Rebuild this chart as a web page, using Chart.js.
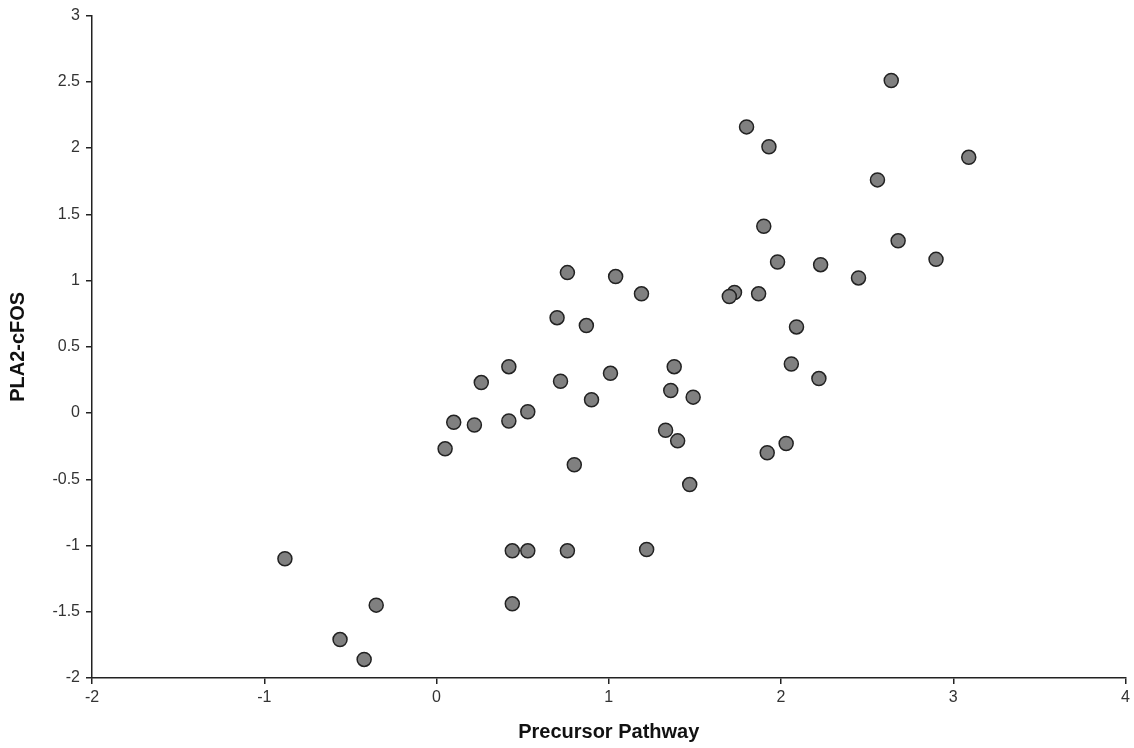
<!DOCTYPE html>
<html>
<head>
<meta charset="utf-8">
<script src="https://cdn.jsdelivr.net/npm/chart.js@4.4.0/dist/chart.umd.min.js"></script>
<style>
  html, body { margin: 0; padding: 0; background: #ffffff; }
  #wrap { width: 1134px; height: 748px; position: relative; }
</style>
</head>
<body>
<div id="wrap"><canvas id="scatterChart"></canvas></div>
<script>
// Datos (Precursor Pathway vs PLA2-cFOS)
const precursorX = [
  2.64, 1.80, 1.93, 3.09, 2.56, 1.90, 2.68, 2.90, 1.98, 2.23,
  1.04, 1.19, 2.45, 1.73, 1.70, 1.87, 0.76, 0.70, 0.87, 0.42,
  0.26, 0.72, 0.90, 0.53, 0.10, 0.22, 0.42, 0.05, 2.09, 1.01,
  1.38, 2.06, 2.22, 1.36, 1.49, 1.33, 1.40, 2.03, 1.92, 1.47,
  0.80, -0.88, -0.35, -0.56, -0.42, 0.44, 0.53, 0.76, 1.22, 0.44
];
const pla2Y = [
  2.51, 2.16, 2.01, 1.93, 1.76, 1.41, 1.30, 1.16, 1.14, 1.12,
  1.03, 0.90, 1.02, 0.91, 0.88, 0.90, 1.06, 0.72, 0.66, 0.35,
  0.23, 0.24, 0.10, 0.01, -0.07, -0.09, -0.06, -0.27, 0.65, 0.30,
  0.35, 0.37, 0.26, 0.17, 0.12, -0.13, -0.21, -0.23, -0.30, -0.54,
  -0.39, -1.10, -1.45, -1.71, -1.86, -1.04, -1.04, -1.04, -1.03, -1.44
];

const puntos = precursorX.map((x, i) => ({ x: x, y: pla2Y[i] }));

const fuenteTicks = { family: "'Liberation Sans', Arial, sans-serif", size: 16 };
const fuenteTitulo = { family: "'Liberation Sans', Arial, sans-serif", size: 20, weight: 'bold' };

// Etiquetas sin ceros finales (3, 2.5, 2 ...)
const formatoTick = v => String(Math.round(v * 10) / 10);

new Chart(document.getElementById('scatterChart'), {
  type: 'scatter',
  data: {
    datasets: [{
      data: puntos,
      backgroundColor: '#808080',
      borderColor: '#222222',
      borderWidth: 1.5,
      pointRadius: 7,
      pointHoverRadius: 7
    }]
  },
  options: {
    responsive: true,
    maintainAspectRatio: false,
    animation: false,
    layout: { padding: { top: 15, right: 4, left: 0, bottom: 0 } },
    plugins: { legend: { display: false }, tooltip: { enabled: false } },
    scales: {
      x: {
        type: 'linear',
        min: -2, max: 4,
        afterFit: s => { s.height = 70; },
        border: { display: true, color: '#222222', width: 1.5 },
        grid: { drawOnChartArea: false, tickLength: 6, color: '#222222', lineWidth: 1.5 },
        ticks: { stepSize: 1, color: '#333333', font: fuenteTicks, padding: 4, callback: formatoTick },
        title: { display: true, text: 'Precursor Pathway', color: '#111111', font: fuenteTitulo, padding: { top: 6 } }
      },
      y: {
        type: 'linear',
        min: -2, max: 3,
        afterFit: s => { s.width = 92; },
        border: { display: true, color: '#222222', width: 1.5 },
        grid: { drawOnChartArea: false, tickLength: 6, color: '#222222', lineWidth: 1.5 },
        ticks: { stepSize: 0.5, color: '#333333', font: fuenteTicks, padding: 6, callback: formatoTick },
        title: { display: true, text: 'PLA2-cFOS', color: '#111111', font: fuenteTitulo, padding: { top: 6, bottom: 0 } }
      }
    }
  }
});
</script>
</body>
</html>
